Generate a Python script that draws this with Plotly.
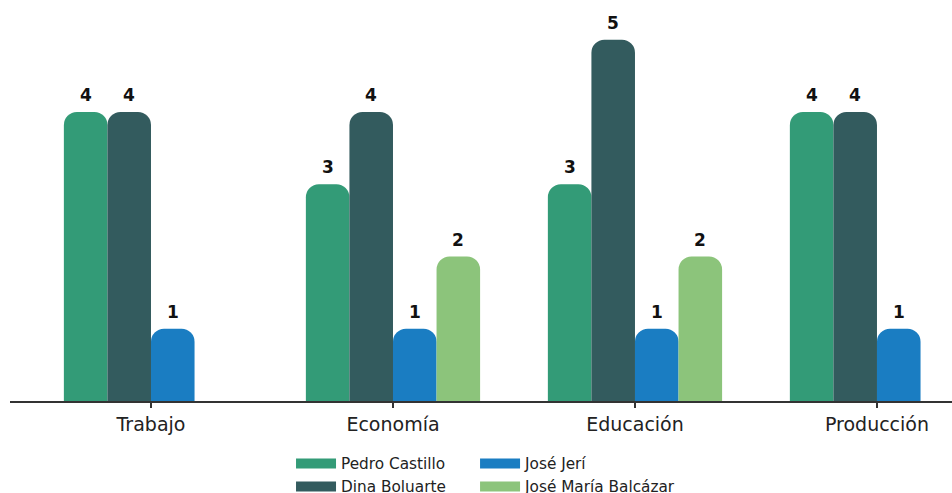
import plotly.graph_objects as go

categories = ["Trabajo", "Economía", "Educación", "Producción"]
series_names = ["Pedro Castillo", "Dina Boluarte", "José Jerí", "José María Balcázar"]
pedro_castillo = [4, 3, 3, 4]
dina_boluarte = [4, 4, 5, 4]
jose_jeri = [1, 1, 1, 1]
jose_maria_balcazar = [None, 2, 2, None]
series_values = [pedro_castillo, dina_boluarte, jose_jeri, jose_maria_balcazar]
colors = ["#339b77", "#335b5e", "#1a7dc2", "#8cc47b"]

bargap = 0.28
n_series = len(series_names)
bar_w = (1 - bargap) / n_series

FONT = "DejaVu Sans"
fig = go.Figure()

legend_ids = ["legend", "legend3", "legend2", "legend4"]
for j, (name, vals, col) in enumerate(zip(series_names, series_values, colors)):
    fig.add_trace(go.Bar(
        x=categories, y=vals, name=name, marker=dict(color=col, line=dict(width=0), cornerradius=13),
        showlegend=False, cliponaxis=False,
    ))
    # legend proxy
    fig.add_trace(go.Scatter(
        x=[None], y=[None], mode="lines", name=name,
        line=dict(color=col, width=10), legend=legend_ids[j], showlegend=True,
    ))

annotations = []
for j, vals in enumerate(series_values):
    for i, v in enumerate(vals):
        if v is None:
            continue
        annotations.append(dict(
            x=i + (j - (n_series - 1) / 2) * bar_w, y=v, xref="x", yref="y",
            text=f"<b>{v}</b>", showarrow=False, yshift=17, yanchor="middle",
            font=dict(family=FONT, size=17, color="#111111"),
        ))

leg_font = dict(family=FONT, size=15.3, color="#222222")
leg_common = dict(font=leg_font, itemwidth=40, bgcolor="rgba(0,0,0,0)", borderwidth=0,
                  xanchor="left", yanchor="top", orientation="v",
                  xref="container", yref="container")

fig.update_layout(
    width=952, height=493,
    margin=dict(l=10, r=0, t=0, b=92, autoexpand=False),
    paper_bgcolor="white", plot_bgcolor="white",
    barmode="group", bargap=bargap, bargroupgap=0,
    font=dict(family=FONT, color="#222222"),
    xaxis=dict(
        type="category", range=[-0.5826, 3.310],
        showline=True, linecolor="#333333", linewidth=1.5,
        ticks="outside", ticklen=5, tickwidth=1.5, tickcolor="#333333",
        tickfont=dict(family=FONT, size=19, color="#222222"),
        showgrid=False, zeroline=False, automargin=False,
    ),
    yaxis=dict(range=[0, 5.55], visible=False, showgrid=False, zeroline=False),
    annotations=annotations,
    legend=dict(x=0.3057, y=0.0933, **leg_common),
    legend3=dict(x=0.3057, y=0.0467, **leg_common),
    legend2=dict(x=0.499, y=0.0933, **leg_common),
    legend4=dict(x=0.499, y=0.0467, **leg_common),
)

fig.write_html("out.html")
